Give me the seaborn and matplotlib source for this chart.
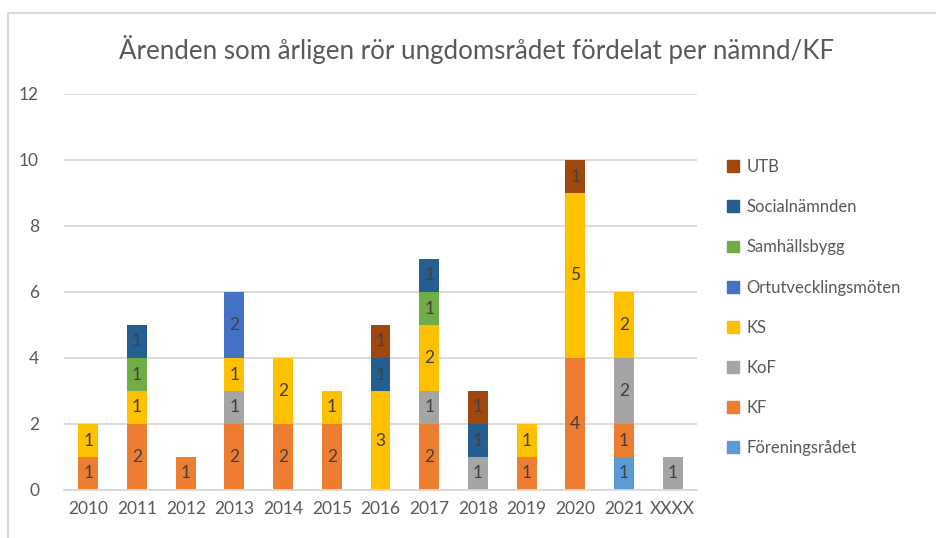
import pandas as pd
import numpy as np
import seaborn as sns
import matplotlib.pyplot as plt
from matplotlib.lines import Line2D

years = ["2010", "2011", "2012", "2013", "2014", "2015", "2016",
         "2017", "2018", "2019", "2020", "2021", "XXXX"]

# counts per year for each nämnd
foreningsradet = [0, 0, 0, 0, 0, 0, 0, 0, 0, 0, 0, 1, 0]
kf = [1, 2, 1, 2, 2, 2, 0, 2, 0, 1, 4, 1, 0]
kof = [0, 0, 0, 1, 0, 0, 0, 1, 1, 0, 0, 2, 1]
ks = [1, 1, 0, 1, 2, 1, 3, 2, 0, 1, 5, 2, 0]
ortutv = [0, 0, 0, 2, 0, 0, 0, 0, 0, 0, 0, 0, 0]
samhallsbygg = [0, 1, 0, 0, 0, 0, 0, 1, 0, 0, 0, 0, 0]
social = [0, 1, 0, 0, 0, 0, 1, 1, 1, 0, 0, 0, 0]
utb = [0, 0, 0, 0, 0, 0, 1, 0, 1, 0, 1, 0, 0]

series = {
    "UTB": utb,
    "Socialnämnden": social,
    "Samhällsbygg": samhallsbygg,
    "Ortutvecklingsmöten": ortutv,
    "KS": ks,
    "KoF": kof,
    "KF": kf,
    "Föreningsrådet": foreningsradet,
}
colors = {
    "UTB": "#9E480E",
    "Socialnämnden": "#255E91",
    "Samhällsbygg": "#70AD47",
    "Ortutvecklingsmöten": "#4472C4",
    "KS": "#FFC000",
    "KoF": "#A5A5A5",
    "KF": "#ED7D31",
    "Föreningsrådet": "#5B9BD5",
}

rows = []
for i, y in enumerate(years):
    for name, vals in series.items():
        rows.append({"year": y, "namnd": name, "antal": vals[i]})
df = pd.DataFrame(rows)

sns.set_style("white")
plt.rcParams["font.family"] = ["Lato", "DejaVu Sans"]

fig = plt.figure(figsize=(9.36, 5.38), dpi=100)
ax = fig.add_axes([64 / 936, 1 - 490 / 538, 633 / 936, 396 / 538])

hue_order = list(series.keys())
sns.histplot(data=df, x="year", hue="namnd", weights="antal", hue_order=hue_order,
             multiple="stack", discrete=True, shrink=0.41, palette=colors,
             alpha=1, linewidth=0, ax=ax, legend=False)

for cont in ax.containers:
    labels = [f"{int(round(b.get_height()))}" if b.get_height() > 0 else "" for b in cont]
    ax.bar_label(cont, labels=labels, label_type="center", color="#404040", fontsize=12.5)

ax.set_ylim(0, 12)
ax.set_yticks(range(0, 13, 2))
ax.set_xlim(-0.5, len(years) - 0.5)
ax.set_xlabel("")
ax.set_ylabel("")
ax.grid(axis="y", color="#D9D9D9", linewidth=1.3)
ax.set_axisbelow(True)
for s in ["top", "right", "left"]:
    ax.spines[s].set_visible(False)
ax.spines["bottom"].set_color("#D9D9D9")
ax.spines["bottom"].set_linewidth(1.3)
ax.tick_params(axis="both", length=0, labelsize=12.5, colors="#595959")
ax.tick_params(axis="y", pad=18)
ax.tick_params(axis="x", pad=8)

handles = [plt.Rectangle((0, 0), 1, 1, color=colors[n]) for n in hue_order]
fig.legend(handles, hue_order, loc="upper left", bbox_to_anchor=(712 / 936, 1 - 144 / 538),
           frameon=False, fontsize=12, labelcolor="#595959", handlelength=0.7,
           handleheight=0.7, handletextpad=0.45, labelspacing=1.45)

fig.text(477 / 936, 1 - 50 / 538, "Ärenden som årligen rör ungdomsrådet fördelat per nämnd/KF",
         ha="center", va="center", fontsize=18.6, color="#595959")

# chart border
fig.add_artist(Line2D([8 / 936, 8 / 936], [0, 1 - 13 / 538], transform=fig.transFigure,
                      color="#D9D9D9", linewidth=1.5))
fig.add_artist(Line2D([8 / 936, 1], [1 - 13 / 538, 1 - 13 / 538], transform=fig.transFigure,
                      color="#D9D9D9", linewidth=1.5))

fig.savefig("out.png", dpi=100)
